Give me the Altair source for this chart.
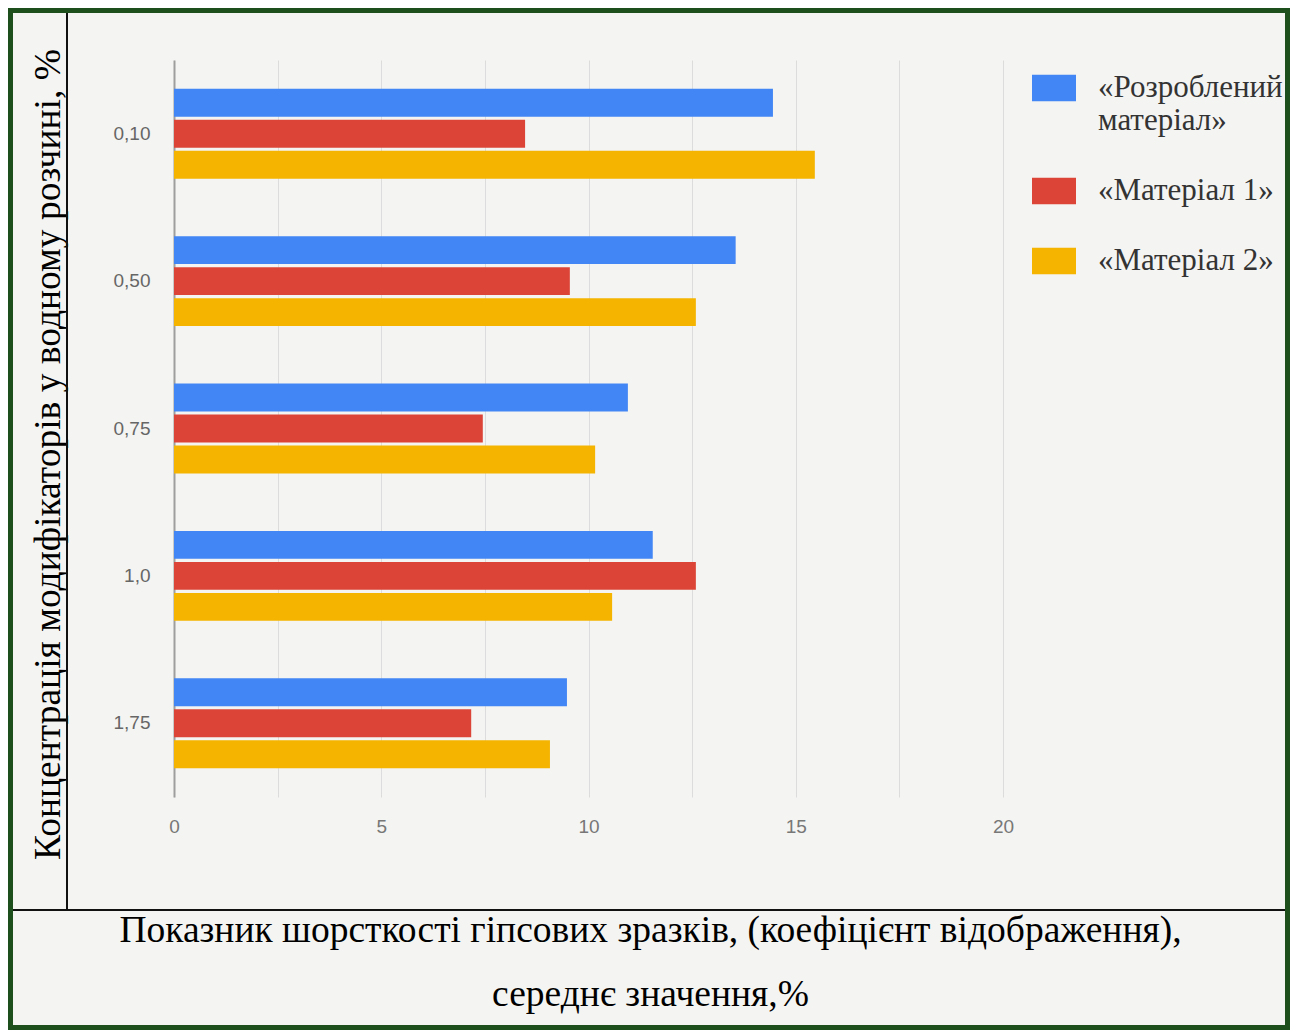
import altair as alt
import pandas as pd

categories = ["0,10", "0,50", "0,75", "1,0", "1,75"]
series = ["«Розроблений матеріал»", "«Матеріал 1»", "«Матеріал 2»"]
colors = ["#4285f4", "#db4437", "#f4b400"]
vals_dev = [14.45, 13.55, 10.95, 11.55, 9.48]
vals_m1 = [8.47, 9.55, 7.45, 12.59, 7.17]
vals_m2 = [15.46, 12.59, 10.16, 10.57, 9.07]

rows = []
for s, vs in zip(series, [vals_dev, vals_m1, vals_m2]):
    for c, v in zip(categories, vs):
        rows.append({"conc": c, "series": s, "value": v})
df = pd.DataFrame(rows)

serif = "Liberation Serif"
sans = "Liberation Sans"

bars = alt.Chart(df).mark_bar().encode(
    x=alt.X("value:Q",
            scale=alt.Scale(domain=[0, 20], nice=False),
            axis=alt.Axis(values=[0, 2.5, 5, 7.5, 10, 12.5, 15, 17.5, 20],
                          labelExpr="datum.value % 5 == 0 ? datum.label : ''",
                          grid=True, gridColor="#dcdcdc", gridWidth=1,
                          domain=False, ticks=False, labelFlush=False,
                          labelFont=sans, labelFontSize=19, labelColor="#777777",
                          labelPadding=20,
                          title=["Показник шорсткості гіпсових зразків, (коефіцієнт відображення),",
                                 "середнє значення,%"],
                          titleFont=serif, titleFontSize=37.5, titleFontWeight="normal",
                          titleColor="#000000", titleLineHeight=64,
                          titleX=476, titleY=144, titleAlign="center",
                          titleBaseline="alphabetic")),
    y=alt.Y("conc:N", sort=categories,
            scale=alt.Scale(paddingInner=0.39, paddingOuter=0.195),
            axis=alt.Axis(domain=True, domainColor="#9e9e9e", domainWidth=2,
                          ticks=False, grid=False,
                          labelFont=sans, labelFontSize=19, labelColor="#666666",
                          labelPadding=24,
                          title="Концентрація модифікаторів у водному розчині, %",
                          titleFont=serif, titleFontSize=37.5, titleFontWeight="normal",
                          titleColor="#000000", titleAngle=270,
                          titleX=-126, titleY=394, titleAlign="center",
                          titleBaseline="middle")),
    yOffset=alt.YOffset("series:N", sort=series,
                        scale=alt.Scale(paddingInner=0.1, paddingOuter=0)),
    color=alt.Color("series:N", sort=series,
                    scale=alt.Scale(domain=series, range=colors),
                    legend=alt.Legend(
                        title=None, orient="none", legendX=858, legendY=6,
                        symbolType="M-1,-0.6H1V0.6H-1Z", symbolSize=1936,
                        symbolStrokeWidth=0, symbolOpacity=1,
                        labelFont=serif, labelFontSize=31, labelColor="#333333",
                        labelLimit=400, labelOffset=22, rowPadding=33,
                        labelBaseline="middle",
                        labelExpr="datum.label == '«Розроблений матеріал»' ? ['«Розроблений', '\u2002\u2002матеріал»'] : datum.label")),
)

one = alt.Data(values=[{"k": 1}])

frame = alt.Chart(one).mark_rect(filled=False, stroke="#1d4f1d", strokeWidth=5).encode(
    x=alt.value(-163.5), x2=alt.value(1113.5), y=alt.value(-49.5), y2=alt.value(967.5))
vline = alt.Chart(one).mark_rule(color="#111111", strokeWidth=2).encode(
    x=alt.value(-107), y=alt.value(-47), y2=alt.value(850))
hline = alt.Chart(one).mark_rule(color="#111111", strokeWidth=2).encode(
    x=alt.value(-161), x2=alt.value(1111), y=alt.value(850))

chart = alt.layer(bars, vline, hline, frame).properties(
    width=829, height=737,
    autosize=alt.AutoSizeParams(type="none"),
    padding={"left": 166, "top": 52, "right": 287, "bottom": 233},
    background="#f4f4f2",
).configure_view(stroke=None)

chart.save("out.html", embed_options={"renderer": "svg", "actions": False})
